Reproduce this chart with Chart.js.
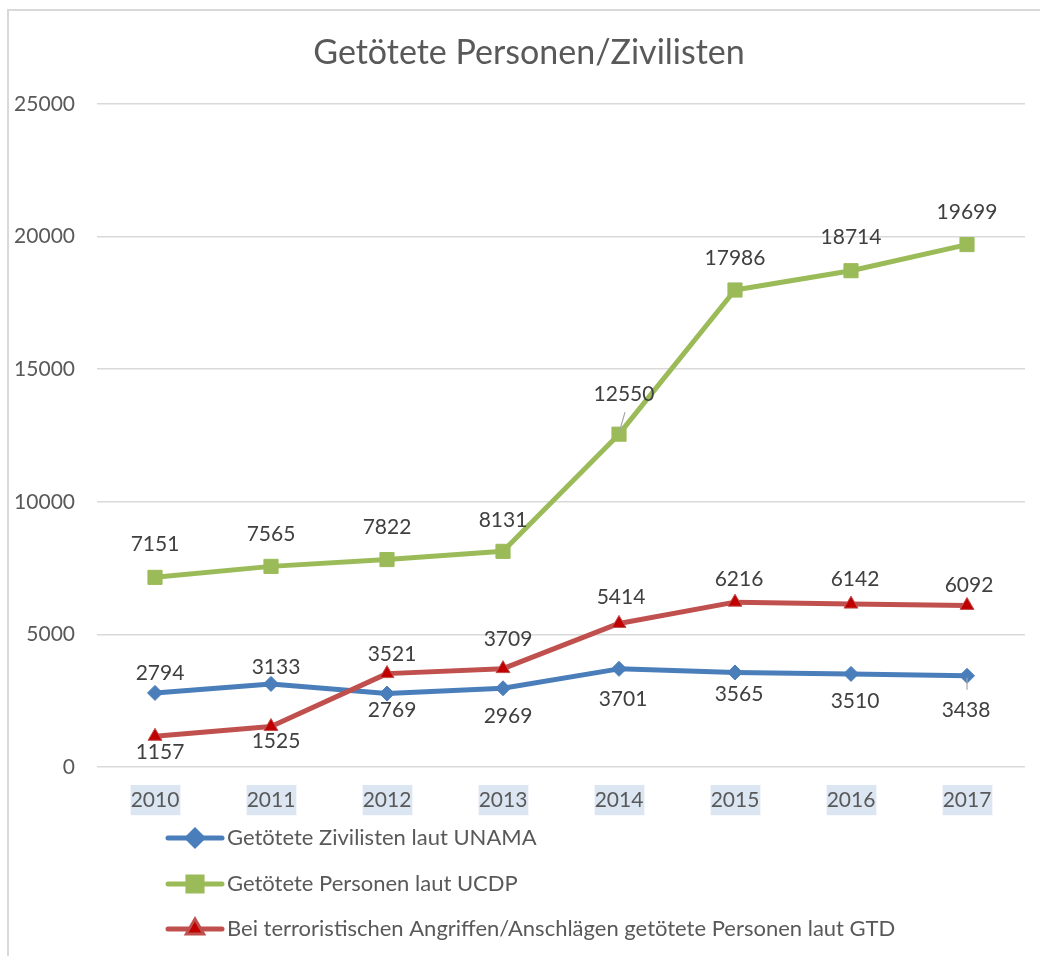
<!DOCTYPE html>
<html lang="de">
<head>
<meta charset="utf-8">
<title>Getötete Personen/Zivilisten</title>
<script src="https://cdn.jsdelivr.net/npm/chart.js@4/dist/chart.umd.min.js"></script>
<style>
  html, body { margin: 0; padding: 0; background: #ffffff; }
  #wrap { position: relative; width: 1040px; height: 956px; }
</style>
</head>
<body>
<div id="wrap"><canvas id="c" width="1040" height="956"></canvas></div>
<script>
// ---- data ----
const years = ['2010', '2011', '2012', '2013', '2014', '2015', '2016', '2017'];
const unama = [2794, 3133, 2769, 2969, 3701, 3565, 3510, 3438];
const ucdp = [7151, 7565, 7822, 8131, 12550, 17986, 18714, 19699];
const gtd = [1157, 1525, 3521, 3709, 5414, 6216, 6142, 6092];
const seriesNames = [
  'Getötete Zivilisten laut UNAMA',
  'Getötete Personen laut UCDP',
  'Bei terroristischen Angriffen/Anschlägen getötete Personen laut GTD'
];
const yMin = 0, yMax = 25000, yStep = 5000;
const chartTitle = 'Getötete Personen/Zivilisten';

// ---- look ----
const FONT = 'Lato, "Open Sans", "DejaVu Sans", sans-serif';
const TEXT = '#595959';
const LABEL_TEXT = '#404040';
const GRID = '#D9D9D9';

// value label placement (pixel offset of label centre from its point)
const labelOffsets = [
  [[5, -20], [5, -17], [5, 17], [5, 28], [4, 30], [4, 22], [4, 27], [-1, 34]],
  [[0, -33], [0, -32], [0, -32], [0, -31], [5, -40], [0, -32], [0, -33], [0, -32]],
  [[5, 16], [5, 15], [5, -19], [5, -29], [2, -26], [4, -23], [4, -25], [2, -20]]
];
// leader lines: [dataset, index, x1, y1, x2, y2] relative to the point
const leaders = [
  [1, 4, 6, -22, 0, -1],
  [0, 7, 0, 2, 0, 14]
];

const frame = {
  id: 'frame',
  beforeDraw(chart) {
    const ctx = chart.ctx;
    ctx.save();
    ctx.fillStyle = '#ffffff';
    ctx.fillRect(0, 0, chart.width, chart.height);
    ctx.strokeStyle = GRID;
    ctx.lineWidth = 2;
    ctx.beginPath();
    ctx.moveTo(8, chart.height);
    ctx.lineTo(8, 10);
    ctx.lineTo(chart.width, 10);
    ctx.stroke();
    // chart title, centred over the framed area
    ctx.font = '34px ' + FONT;
    ctx.fillStyle = TEXT;
    ctx.textAlign = 'center';
    ctx.textBaseline = 'middle';
    ctx.fillText(chartTitle, 529, 53);
    ctx.restore();
  }
};

const valueLabels = {
  id: 'valueLabels',
  afterDatasetsDraw(chart) {
    const ctx = chart.ctx;
    ctx.save();
    ctx.strokeStyle = '#A6A6A6';
    ctx.lineWidth = 1.2;
    leaders.forEach(([d, i, x1, y1, x2, y2]) => {
      const p = chart.getDatasetMeta(d).data[i];
      ctx.beginPath();
      ctx.moveTo(p.x + x1, p.y + y1);
      ctx.lineTo(p.x + x2, p.y + y2);
      ctx.stroke();
    });
    ctx.font = '21px ' + FONT;
    ctx.fillStyle = LABEL_TEXT;
    ctx.textAlign = 'center';
    ctx.textBaseline = 'middle';
    chart.data.datasets.forEach((ds, d) => {
      const meta = chart.getDatasetMeta(d);
      meta.data.forEach((p, i) => {
        const [dx, dy] = labelOffsets[d][i];
        ctx.fillText(String(ds.data[i]), p.x + dx, p.y + dy);
      });
    });
    ctx.restore();
  }
};

const lineLegend = {
  id: 'lineLegend',
  afterDraw(chart) {
    const ctx = chart.ctx;
    const x0 = 168, x1 = 222, textX = 227;
    const rows = [838, 884, 929];
    ctx.save();
    chart.data.datasets.forEach((ds, d) => {
      const y = rows[d];
      ctx.strokeStyle = ds.borderColor;
      ctx.lineWidth = 5;
      ctx.lineCap = 'round';
      ctx.beginPath();
      ctx.moveTo(x0, y);
      ctx.lineTo(x1, y);
      ctx.stroke();
      Chart.helpers.drawPoint(ctx, {
        pointStyle: ds.pointStyle,
        radius: ds.pointRadius,
        borderWidth: ds.pointBorderWidth,
        rotation: 0
      }, (x0 + x1) / 2, y);
      ctx.fillStyle = ds.pointBackgroundColor;
      ctx.strokeStyle = ds.pointBorderColor;
      ctx.lineWidth = ds.pointBorderWidth;
      ctx.fill();
      if (ds.pointBorderWidth) ctx.stroke();
      ctx.font = '22px ' + FONT;
      ctx.fillStyle = TEXT;
      ctx.textAlign = 'left';
      ctx.textBaseline = 'middle';
      ctx.fillText(ds.label, textX, y);
    });
    ctx.restore();
  }
};

new Chart(document.getElementById('c'), {
  type: 'line',
  data: {
    labels: years,
    datasets: [
      {
        label: seriesNames[0], data: unama, order: 2,
        borderColor: '#4A7EBB', borderWidth: 5,
        pointStyle: 'rectRot', pointRadius: 7.5,
        pointBackgroundColor: '#4A7EBB', pointBorderColor: '#4A7EBB', pointBorderWidth: 1
      },
      {
        label: seriesNames[1], data: ucdp, order: 1,
        borderColor: '#9BBB59', borderWidth: 5,
        pointStyle: 'rect', pointRadius: 10,
        pointBackgroundColor: '#9BBB59', pointBorderColor: '#9BBB59', pointBorderWidth: 1
      },
      {
        label: seriesNames[2], data: gtd, order: 0,
        borderColor: '#C0504D', borderWidth: 5,
        pointStyle: 'triangle', pointRadius: 8,
        pointBackgroundColor: '#C00000', pointBorderColor: '#C0504D', pointBorderWidth: 1
      }
    ]
  },
  options: {
    responsive: false,
    animation: false,
    events: [],
    layout: { padding: { left: 0, right: 15, top: 104, bottom: 140 } },
    elements: { line: { tension: 0, borderCapStyle: 'round', borderJoinStyle: 'round' } },
    plugins: {
      legend: { display: false },
      tooltip: { enabled: false },
      title: { display: false }
    },
    scales: {
      x: {
        offset: true,
        grid: { display: false, drawTicks: false },
        border: { display: false },
        ticks: {
          color: TEXT,
          font: { family: FONT, size: 21, lineHeight: 1.2 },
          padding: 21,
          showLabelBackdrop: true,
          backdropColor: '#DCE6F2',
          backdropPadding: { top: 3, bottom: 2, left: 0, right: 1 }
        },
        afterFit(scale) { scale.height = 49; }
      },
      y: {
        min: yMin, max: yMax,
        grid: { color: GRID, lineWidth: 1.5, drawTicks: false },
        border: { display: false },
        ticks: {
          stepSize: yStep,
          color: TEXT,
          font: { family: FONT, size: 21 },
          padding: 22,
          callback: v => String(v)
        },
        afterFit(scale) { scale.width = 97; }
      }
    }
  },
  plugins: [frame, valueLabels, lineLegend]
});
</script>
</body>
</html>
